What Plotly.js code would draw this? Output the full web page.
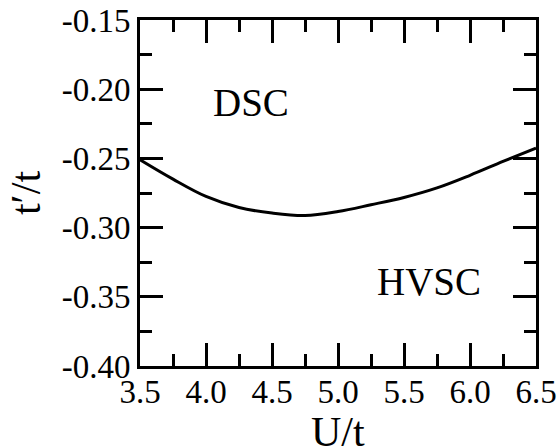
<!DOCTYPE html>
<html>
<head>
<meta charset="utf-8">
<script src="https://cdn.plot.ly/plotly-3.0.1.min.js"></script>
<style>
  html, body { margin: 0; padding: 0; background: #fff; }
  #chart { width: 559px; height: 447px; }
</style>
</head>
<body>
<div id="chart"></div>
<script>
// Phase boundary between the DSC and HVSC regions
const uValues = [3.5, 3.75, 4.0, 4.25, 4.5, 4.75, 5.0, 5.25, 5.5, 5.75, 6.0, 6.25, 6.5];
const tPrimeValues = [-0.251, -0.265, -0.2775, -0.2855, -0.2895, -0.2913, -0.2884, -0.2835, -0.2782, -0.2713, -0.2622, -0.2522, -0.2425];

// Axis ticks
const xTickVals = [3.5, 4.0, 4.5, 5.0, 5.5, 6.0, 6.5];
const xTickText = ["3.5", "4.0", "4.5", "5.0", "5.5", "6.0", "6.5"];
const yTickVals = [-0.40, -0.35, -0.30, -0.25, -0.20, -0.15];
const yTickText = ["-0.40", "-0.35", "-0.30", "-0.25", "-0.20", "-0.15"];

// Region labels
const regionNames = ["DSC", "HVSC"];
const regionU = [4.34, 5.69];
const regionT = [-0.2096, -0.339];

const xTitle = "U/t";
const yTitle = "t\u2032/t";

const serif = "Liberation Serif";

const trace = {
  x: uValues,
  y: tPrimeValues,
  type: "scatter",
  mode: "lines",
  line: { color: "#000", width: 3, shape: "spline", smoothing: 1 },
  hoverinfo: "skip",
  showlegend: false
};

function axisBase() {
  return {
    showgrid: false,
    zeroline: false,
    showline: true,
    linecolor: "#000",
    linewidth: 3,
    mirror: "allticks",
    ticks: "inside",
    ticklen: 23,
    tickwidth: 3,
    tickcolor: "#000",
    tickfont: { family: serif, size: 33, color: "#000" },
    tickmode: "array",
    fixedrange: true
  };
}

const regionLabels = regionNames.map((name, i) => ({
  x: regionU[i],
  y: regionT[i],
  xref: "x",
  yref: "y",
  text: name,
  showarrow: false,
  font: { family: serif, size: 39, color: "#000" }
}));

// x-axis title sits just under the tick labels
const xTitleLabel = {
  x: 0.5,
  y: -0.19,
  xref: "paper",
  yref: "paper",
  xanchor: "center",
  yanchor: "middle",
  text: xTitle,
  showarrow: false,
  font: { family: serif, size: 42, color: "#000" }
};

const layout = {
  width: 559,
  height: 447,
  margin: { l: 140, r: 23, t: 20, b: 81 },
  paper_bgcolor: "#fff",
  plot_bgcolor: "#fff",
  font: { family: serif, size: 33, color: "#000" },
  showlegend: false,
  xaxis: Object.assign(axisBase(), {
    range: [3.5, 6.5],
    tickvals: xTickVals,
    ticktext: xTickText,
    ticklabelstandoff: -6,
    minor: { tickmode: "linear", tick0: 3.5, dtick: 0.25, ticks: "inside", ticklen: 12, tickwidth: 3, tickcolor: "#000" }
  }),
  yaxis: Object.assign(axisBase(), {
    range: [-0.40, -0.15],
    tickvals: yTickVals,
    ticktext: yTickText,
    minor: { tickmode: "linear", tick0: -0.40, dtick: 0.025, ticks: "inside", ticklen: 12, tickwidth: 3, tickcolor: "#000" },
    title: { text: yTitle, font: { family: serif, size: 42, color: "#000" }, standoff: 8 }
  }),
  annotations: regionLabels.concat([xTitleLabel])
};

Plotly.newPlot("chart", [trace], layout, { displayModeBar: false, staticPlot: true });
</script>
</body>
</html>
